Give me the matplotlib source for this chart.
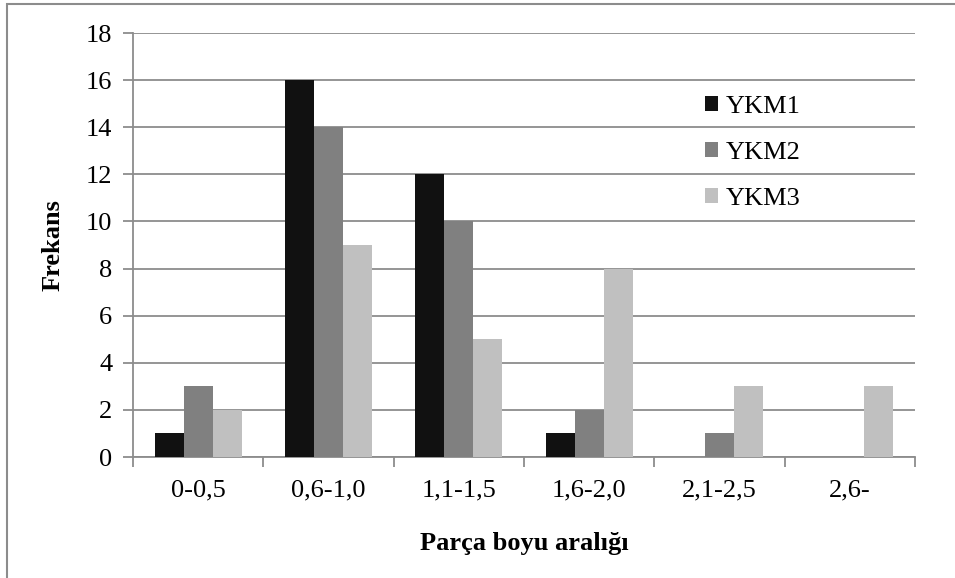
import numpy as np
import matplotlib.pyplot as plt
from matplotlib.patches import Rectangle

# Data
categories = ['0-0,5', '0,6-1,0', '1,1-1,5', '1,6-2,0', '2,1-2,5', '2,6-']
ykm1 = [1, 16, 12, 1, 0, 0]
ykm2 = [3, 14, 10, 2, 1, 0]
ykm3 = [2, 9, 5, 8, 3, 3]
series_names = ['YKM1', 'YKM2', 'YKM3']
colors = ['#111111', '#808080', '#c0c0c0']

plt.rcParams['font.family'] = ['Liberation Serif', 'DejaVu Serif']
fs = 19

fig = plt.figure(figsize=(9.55, 5.78), dpi=100)
ax = fig.add_axes([133 / 955, 1 - 457 / 578, (915 - 133) / 955, (457 - 33) / 578])

# Outer chart border
fig.patches.append(Rectangle((7 / 955, -0.01), 1.0, 1 - 4 / 578 + 0.01,
                             transform=fig.transFigure, fill=False,
                             edgecolor='#8c8c8c', linewidth=1.5))

x = np.arange(len(categories))
w = 0.222
for i, (vals, name, c) in enumerate(zip([ykm1, ykm2, ykm3], series_names, colors)):
    ax.bar(x + (i - 1) * w, vals, width=w, color=c, label=name, zorder=3)

ax.set_xlim(-0.5, len(categories) - 0.5)
ax.set_ylim(0, 18)
ax.set_yticks(range(0, 19, 2))
ax.yaxis.grid(True, color='#8c8c8c', linewidth=1.3, zorder=0)

# category boundary ticks on x axis
ax.set_xticks(np.arange(-0.5, len(categories) + 0.5, 1))
ax.set_xticklabels([])
ax.set_xticks(x, minor=True)
ax.set_xticklabels(categories, minor=True)
ax.tick_params(axis='x', which='major', length=7, color='#8c8c8c', width=1.3)
ax.tick_params(axis='x', which='minor', length=0, pad=16, labelsize=fs)
ax.tick_params(axis='y', length=7, color='#8c8c8c', width=1.3, labelsize=fs, pad=8)

for s in ['top', 'right']:
    ax.spines[s].set_visible(False)
for s in ['left', 'bottom']:
    ax.spines[s].set_color('#8c8c8c')
    ax.spines[s].set_linewidth(1.3)

ax.set_ylabel('Frekans', fontsize=fs, fontweight='bold', labelpad=15)
ax.set_xlabel('Parça boyu aralığı', fontsize=fs, fontweight='bold', labelpad=22)

leg = ax.legend(loc='upper left', bbox_to_anchor=(0.731, 0.851), frameon=False,
                fontsize=fs, handlelength=0.5, handleheight=0.5,
                handletextpad=0.3, labelspacing=0.9, borderpad=0,
                borderaxespad=0)

fig.savefig('out.png', dpi=100)
